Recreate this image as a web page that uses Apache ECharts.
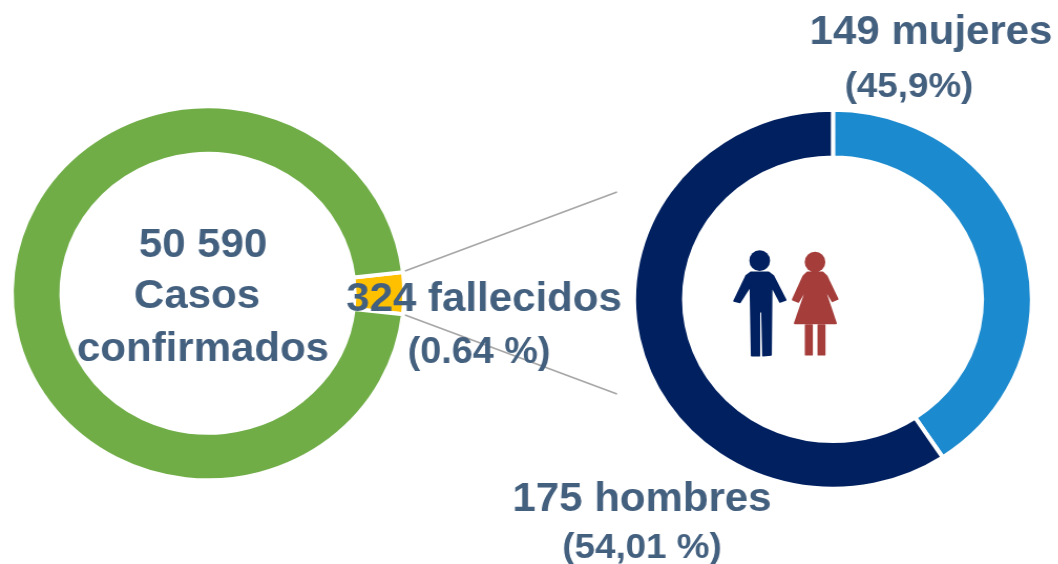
<!DOCTYPE html>
<html>
<head>
<meta charset="utf-8">
<title>Casos confirmados y fallecidos</title>
<script src="https://cdn.jsdelivr.net/npm/echarts@6/dist/echarts.min.js"></script>
<style>
html, body { margin: 0; padding: 0; background: #fff; overflow: hidden; }
/* el original esta estirado a lo ancho, los circulos son elipses */
#main { width: 1008px; height: 564px; transform: scaleX(1.05); transform-origin: 0 0; }
</style>
</head>
<body>
<div id="main"></div>
<script>
// porcion tal como se ve dibujada en la imagen (no es la proporcion real)
var casosNombres = ['324 fallecidos', 'Casos confirmados'];
var casosValores = [3.6, 96.4];
var casosColores = ['#ffc000', '#70ad47'];

var sexoNombres = ['149 mujeres', '175 hombres'];
var sexoValores = [40.7, 59.3];
var sexoColores = ['#1c8ace', '#002060'];

var textoColor = '#44607f';
var s = 1.05;

var myChart = echarts.init(document.getElementById('main'));

function texto(t, cx, y, size) {
	return {
		type: 'text',
		z: 10,
		x: cx / s,
		y: y,
		style: {
			text: t,
			fill: textoColor,
			font: 'bold ' + size + 'px "Liberation Sans", Arial, sans-serif',
			align: 'center',
			verticalAlign: 'middle'
		}
	};
}

function linea(x1, y1, x2, y2) {
	return {
		type: 'line',
		z: 5,
		shape: { x1: x1 / s, y1: y1, x2: x2 / s, y2: y2 },
		style: { stroke: '#a6a6a6', lineWidth: 1.7 }
	};
}

// iconos en coordenadas de un recorte 3x, origen en (720, 240)
function icono(color, cx, cy, cuerpo) {
	return {
		type: 'group',
		z: 6,
		x: 720 / s,
		y: 240,
		scaleX: 1 / (3 * s),
		scaleY: 1 / 3,
		children: [{
			type: 'circle',
			shape: { cx: cx, cy: cy, r: 31 },
			style: { fill: color }
		}].concat(cuerpo.map(function (p) {
			return {
				type: 'polygon',
				shape: { points: p },
				style: { fill: color, stroke: color, lineWidth: 5, lineJoin: 'round' }
			};
		}))
	};
}

var hombre = [[[92, 97], [146, 97], [160, 108], [197, 180], [180, 186], [155, 138], [153, 345], [129, 347], [126, 215], [118, 215], [118, 347], [95, 347], [91, 138], [60, 187], [42, 183], [78, 108]]];
var mujer = [
	[[262, 97], [308, 97], [320, 108], [353, 177], [337, 184], [311, 140], [348, 250], [224, 250], [262, 140], [235, 186], [218, 179], [250, 108]],
	[[257, 255], [276, 255], [276, 344], [257, 344]],
	[[295, 255], [314, 255], [314, 344], [295, 344]]
];

var option = {
	animation: false,
	backgroundColor: '#fff',
	series: [{
		name: 'Casos',
		type: 'pie',
		center: [208 / s, 293.3],
		radius: [139.5, 187],
		startAngle: 6.5,
		label: { show: false },
		labelLine: { show: false },
		silent: true,
		itemStyle: { borderColor: '#fff', borderWidth: 4 },
		data: casosValores.map(function (v, i) {
			return { name: casosNombres[i], value: v, itemStyle: { color: casosColores[i] } };
		})
	}, {
		name: 'Sexo',
		type: 'pie',
		center: [833 / s, 299.3],
		radius: [141.8, 189.5],
		startAngle: 90,
		label: { show: false },
		labelLine: { show: false },
		silent: true,
		itemStyle: { borderColor: '#fff', borderWidth: 4 },
		data: sexoValores.map(function (v, i) {
			return { name: sexoNombres[i], value: v, itemStyle: { color: sexoColores[i] } };
		})
	}],
	graphic: [
		linea(405, 271, 617, 192),
		linea(405, 315, 617, 394),
		icono('#002060', 119, 62, hombre),
		icono('#a53e3b', 285, 66, mujer),
		texto('50 590', 203, 246, 40),
		texto('Casos', 197, 297, 40),
		texto('confirmados', 203, 350, 40),
		texto('324 fallecidos', 484, 300, 40),
		texto('(0.64 %)', 479, 353, 36),
		texto('149 mujeres', 931, 33, 40),
		texto('(45,9%)', 909, 87, 35),
		texto('175 hombres', 642, 500, 40),
		texto('(54,01 %)', 642, 548, 35)
	]
};
myChart.setOption(option);
</script>
</body>
</html>
